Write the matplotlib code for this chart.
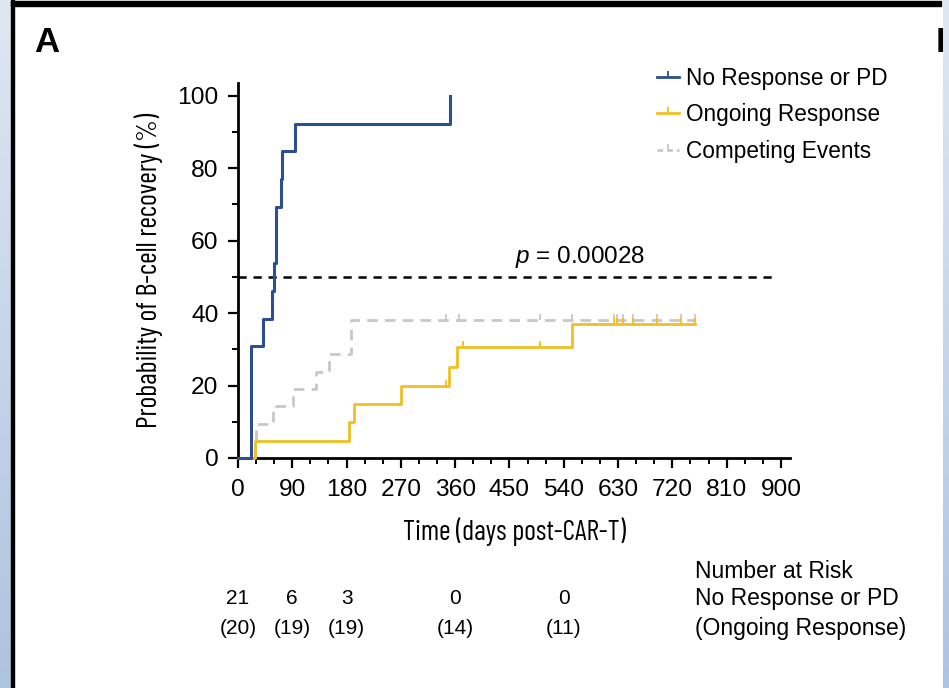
import numpy as np
import matplotlib
matplotlib.use("Agg")
import matplotlib.pyplot as plt
from matplotlib import font_manager as fm
from matplotlib.font_manager import FontProperties
from matplotlib.textpath import TextPath
from matplotlib.path import Path
from matplotlib.lines import Line2D
from matplotlib.patches import Rectangle
from matplotlib.colors import LinearSegmentedColormap
from matplotlib.ticker import MultipleLocator

plt.rcParams['font.family'] = ['Liberation Sans', 'DejaVu Sans']
plt.rcParams['mathtext.fontset'] = 'custom'
plt.rcParams['mathtext.it'] = 'Liberation Sans:italic'
plt.rcParams['mathtext.rm'] = 'Liberation Sans'

# --- cumulative incidence steps (days, %)
nr_days = [0, 21, 22, 42, 57, 59, 63, 71, 73.5, 94.5, 351.6]
nr_pct = [0, 23.1, 30.8, 38.5, 46.2, 53.8, 69.2, 76.9, 84.6, 92.3, 100]

ongoing_days = [0, 28, 184, 193, 270, 350, 363.7, 554, 757]
ongoing_pct = [0, 4.8, 10.0, 15.0, 20.0, 25.2, 30.5, 37.0, 37.0]
ongoing_cens = [345, 373, 500, 623, 629, 639, 655, 694, 735, 757]

compet_days = [0, 28, 30, 58.6, 90.6, 129, 151, 187, 757]
compet_pct = [0, 4.8, 9.5, 14.3, 19.0, 23.8, 28.6, 38.1, 38.1]
compet_cens = [345, 366, 500, 553, 623, 629, 639, 655, 694, 735, 757]

p_text = "0.00028"
labels = ['No Response or PD', 'Ongoing Response', 'Competing Events']

# --- number at risk
risk_days = [0, 90, 180, 360, 540]
risk_nr = [21, 6, 3, 0, 0]
risk_ongoing = [20, 19, 19, 14, 11]

BLUE = '#2d4f8e'
GOLD = '#f0c020'
GREY = '#c8c8cc'
REGULAR = FontProperties(family=['Liberation Sans', 'DejaVu Sans'])


def cap_and_width(fp, s):
    # cap height of 'H' and width of s, both at size 100
    h = TextPath((0, 0), 'H', size=100, prop=fp).get_extents().height
    w = TextPath((0, 0), s, size=100, prop=fp).get_extents().width
    return h, w


def pick_condensed(s, cap_px, width_px):
    """Condensed grotesque whose width/cap ratio is closest to the wanted one."""
    wanted = width_px / cap_px
    names = ['Roboto Condensed', 'Archivo Narrow', 'PT Sans Narrow',
             'IBM Plex Sans Condensed', 'Sofia Sans Condensed',
             'Sofia Sans Extra Condensed', 'Fira Sans Extra Condensed',
             'Barlow Condensed', 'Asap Condensed', 'Encode Sans Condensed']
    best, best_err = None, None
    for f in fm.fontManager.ttflist:
        if f.name not in names or f.style != 'normal' or str(f.weight) not in ('400', 'normal'):
            continue
        try:
            fp = FontProperties(fname=f.fname)
            h, w = cap_and_width(fp, s)
        except Exception:
            continue
        err = abs(w / h - wanted)
        if best_err is None or err < best_err:
            best, best_err = f.fname, err
    return best


XL = 'Time (days post-CAR-T)'
YL = 'Probability of B-cell recovery (%)'
COND_FILE = pick_condensed(XL, 20.3, 223)


def condensed(size=15):
    if COND_FILE:
        return FontProperties(fname=COND_FILE, size=size)
    return FontProperties(family='Liberation Sans', size=size)


W, H = 949, 688
fig = plt.figure(figsize=(W / 100, H / 100), dpi=100)
renderer = fig.canvas.get_renderer()


def fit_size(s, target_px, fp=None):
    # font size that gives a text of the wanted width in pixels
    fp = (fp or REGULAR).copy()
    fp.set_size(20)
    t = fig.text(0, 0, s, fontproperties=fp)
    w = t.get_window_extent(renderer).width
    t.remove()
    return 20 * target_px / w


def px(x, y, w, h):
    return [x / W, 1 - (y + h) / H, w / W, h / H]


# page edges: pale blue strips and the black frame lines
strip_cmap = LinearSegmentedColormap.from_list('strip', ['#dfe7f2', '#aec3e0'])
grad = np.linspace(0, 1, 256).reshape(-1, 1)
for x0, w in [(0, 11), (943, 6)]:
    sa = fig.add_axes(px(x0, 0, w, H), zorder=5)
    sa.imshow(grad, aspect='auto', cmap=strip_cmap)
    sa.axis('off')
fig.add_artist(Rectangle((11 / W, 0), 3 / W, 1, transform=fig.transFigure,
                         color='black', zorder=6))
fig.add_artist(Rectangle((11 / W, 1 - 6 / H), 930 / W, 5 / H,
                         transform=fig.transFigure, color='black', zorder=6))

fig.text(34 / W, 1 - 43 / H, 'A', fontsize=25, fontweight='bold', va='center')
fig.text(936 / W, 1 - 43 / H, 'B', fontsize=25, fontweight='bold', va='center')

ax = fig.add_axes(px(238, 83, 552, 375))

tick_up = Path([(0, 0), (0, 1)])


def step_at(days, pct, t):
    i = np.searchsorted(days, t, side='right') - 1
    return np.asarray(pct)[i]


ax.step(nr_days, nr_pct, where='post', color=BLUE, lw=2.2, clip_on=False, zorder=4)
ax.step(compet_days, compet_pct, where='post', color=GREY, lw=2.0,
        dashes=(3.8, 2.6), clip_on=False, zorder=2)
ax.plot(compet_cens, step_at(compet_days, compet_pct, compet_cens), ls='none',
        marker=tick_up, ms=9, mew=1.3, color=GREY, zorder=2)
ax.step(ongoing_days, ongoing_pct, where='post', color=GOLD, lw=2.0,
        clip_on=False, zorder=3)
ax.plot(ongoing_cens, step_at(ongoing_days, ongoing_pct, ongoing_cens), ls='none',
        marker=tick_up, ms=9, mew=1.3, color=GOLD, zorder=3)

ax.plot([0, 895], [50, 50], color='black', lw=1.8, dashes=(3.3, 2.7))
p_label = r'$p$ = ' + p_text
ax.text(567, 55.5, p_label, fontsize=fit_size(p_label, 130), ha='center', va='center')

for s in ['top', 'right']:
    ax.spines[s].set_visible(False)
for s in ['left', 'bottom']:
    ax.spines[s].set_linewidth(2.0)

ax.set_xticks(np.arange(0, 901, 90))
ax.set_yticks(np.arange(0, 101, 20))
ax.xaxis.set_minor_locator(MultipleLocator(30))
ax.yaxis.set_minor_locator(MultipleLocator(10))
tick_fs = fit_size('450', 41)
ax.tick_params(which='major', length=7, width=1.6, labelsize=tick_fs, direction='out')
ax.tick_params(which='minor', length=4, width=1.4, direction='out')
ax.tick_params(axis='x', pad=8)
ax.tick_params(axis='y', pad=7)
ax.set_xlim(0, 915)
ax.set_ylim(0, 103.5)

ax.set_xlabel(XL, fontproperties=condensed(fit_size(XL, 223, condensed())), labelpad=12)
ax.set_ylabel(YL, fontproperties=condensed(fit_size(YL, 315, condensed())), labelpad=10)

handles = [
    Line2D([], [], color=BLUE, lw=2, marker=tick_up, ms=8, mew=1.3),
    Line2D([], [], color=GOLD, lw=2, marker=tick_up, ms=8, mew=1.3),
    Line2D([], [], color=GREY, lw=2, dashes=(2, 1.5), marker=tick_up, ms=8, mew=1.3),
]
leg_fs = fit_size(labels[0], 201)
fig.legend(handles, labels,
           loc='upper left', bbox_to_anchor=(657 / W, 1 - 67 / H), frameon=False,
           fontsize=leg_fs, handlelength=0.95, handletextpad=0.35, labelspacing=0.59,
           borderaxespad=0, borderpad=0)

# number at risk table under the axis
num_fs = 15
for d, a, b in zip(risk_days, risk_nr, risk_ongoing):
    xf = ax.transData.transform((d, 0))[0] / W
    fig.text(xf, 1 - 599 / H, str(a), fontsize=num_fs, ha='center', va='center')
    fig.text(xf, 1 - 628 / H, f'({b})', fontsize=num_fs, ha='center', va='center')
tab_fs = fit_size('(Ongoing Response)', 211)
for y, s in [(571, 'Number at Risk'), (599, 'No Response or PD'),
             (628, '(Ongoing Response)')]:
    fig.text(695 / W, 1 - y / H, s, fontsize=tab_fs, ha='left', va='center')

fig.savefig('out.png', dpi=100, facecolor='white')
